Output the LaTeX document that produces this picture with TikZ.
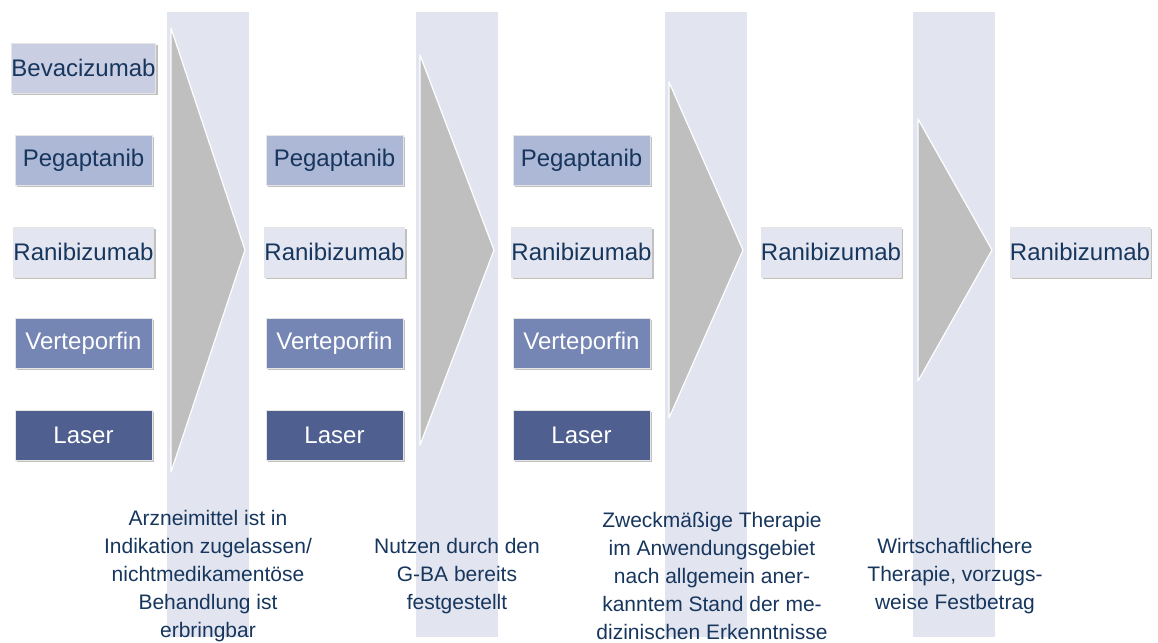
\documentclass[tikz,border=0pt]{standalone}
\usepackage{fontspec}
\setmainfont{Liberation Sans}
\usetikzlibrary{shadows}

\definecolor{navy}{HTML}{17365D}
\definecolor{bandcol}{HTML}{E2E5EF}
\definecolor{chevcol}{HTML}{BFBFBF}
\definecolor{bevcol}{HTML}{C9CEE3}
\definecolor{pegcol}{HTML}{ADB7D6}
\definecolor{rancol}{HTML}{E3E6F0}
\definecolor{vercol}{HTML}{7585B4}
\definecolor{lascol}{HTML}{4F5F8F}

\begin{document}
\begin{tikzpicture}[x=0.5pt,y=-0.5pt,
  band/.style={fill=bandcol},
  chev/.style={fill=chevcol,draw=white,line width=0.6pt,line join=round},
  drug/.style={minimum width=68.5pt,minimum height=25pt,inner sep=0pt,
    draw=white!90!black,line width=0.4pt,text=navy,
    font=\fontsize{12}{14}\selectfont,
    drop shadow={shadow xshift=1pt,shadow yshift=-1.2pt,opacity=0.35,fill=black!70}},
  dark/.style={text=white},
  crit/.style={align=center,text=navy,inner sep=0pt,
    font=\fontsize{10.5}{13.9}\selectfont}]
  \useasboundingbox (0,0) rectangle (1158,643);

  % background bands and chevrons
  \foreach \x in {167,416,665,913}
    \fill[band] (\x,12) rectangle +(82,625);
  \foreach \x/\h in {171/222,420/195,669/168,918/131}
    \filldraw[chev] (\x,250-\h) -- (\x+74,250) -- (\x,250+\h) -- cycle;

  % drugs
  \node[drug,fill=bevcol] (bev1) at (83.5,68) {Bevacizumab};
  \foreach \c/\x in {1/83.5,2/334.5,3/581.5} {
    \node[drug,fill=pegcol] (peg\c) at (\x,160) {Pegaptanib};
    \node[drug,fill=rancol] (ran\c) at (\x,252) {Ranibizumab};
    \node[drug,fill=vercol,dark] (ver\c) at (\x,343) {Verteporfin};
    \node[drug,fill=lascol,dark] (las\c) at (\x,435) {Laser};
  }
  \node[drug,fill=rancol] (ran4) at (831,252) {Ranibizumab};
  \node[drug,fill=rancol] (ran5) at (1080,252) {Ranibizumab};

  % criteria
  \node[crit] (zul) at (208,576) {Arzneimittel ist in\\Indikation zugelassen/\\nichtmedikamentöse\\Behandlung ist\\erbringbar};
  \node[crit] (nutz) at (457,576) {Nutzen durch den\\G-BA bereits\\festgestellt};
  \node[crit] (zweck) at (712,576) {Zweckmäßige Therapie\\im Anwendungsgebiet\\nach allgemein aner-\\kanntem Stand der me-\\dizinischen Erkenntnisse};
  \node[crit] (wirt) at (955,576) {Wirtschaftlichere\\Therapie, vorzugs-\\weise Festbetrag};
\end{tikzpicture}
\end{document}
